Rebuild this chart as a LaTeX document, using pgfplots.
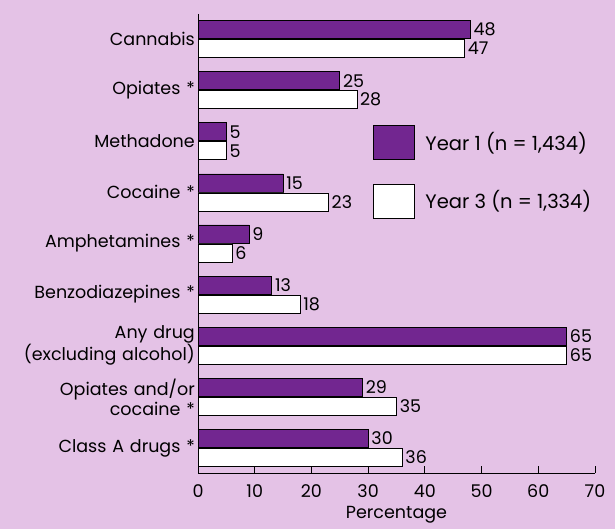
\documentclass[border=0pt]{standalone}
\usepackage{pgfplots}
\pgfplotsset{compat=1.18}
\usepackage{fontspec}
\setmainfont{Poppins}
\definecolor{bgpink}{RGB}{228,194,230}
\definecolor{barpurple}{RGB}{114,38,144}
\begin{document}
\fontsize{17.5}{20}\selectfont
\begin{tikzpicture}
\useasboundingbox (0,0) rectangle (615pt,529pt);
\fill[bgpink] (0,0) rectangle (615pt,529pt);
\begin{axis}[
  at={(198pt,56pt)}, anchor=south west,
  scale only axis, width=397pt, height=459pt,
  xbar, bar width=18pt,
  xmin=0, xmax=70, xtick={0,10,...,70},
  ymin=-0.49, ymax=8.49, y dir=reverse,
  ytick={0,...,8},
  yticklabels={Cannabis, Opiates *, Methadone, Cocaine *, Amphetamines *,
    Benzodiazepines *, {Any drug\\(excluding alcohol)}, {Opiates and/or\\cocaine *},
    Class A drugs *},
  yticklabel style={align=right, text width=195pt, inner sep=3pt},
  xticklabel style={yshift=-6pt},
  ytick style={draw=none},
  axis x line*=bottom, axis y line*=left,
  axis line style={black, line width=1pt},
  tick align=inside, major tick length=7pt,
  xtick style={black, line width=0.8pt},
  /pgf/number format/assume math mode=true,
  xlabel={Percentage},
  xlabel style={yshift=4pt},
  nodes near coords,
  nodes near coords align={horizontal},
  every node near coord/.append style={anchor=west, inner sep=3pt, black},
  legend style={at={(0.44,0.758)}, anchor=north west, draw=none, fill=none,
    row sep=24pt, inner sep=0pt, column sep=9pt, font=\fontsize{19.5}{22}\selectfont},
  legend image code/.code={\draw[#1, line width=0.6pt] (0pt,-17pt) rectangle (41pt,17pt);},
  legend cell align={left},
]
\addplot+[bar shift=9.5pt, draw=black, fill=barpurple, line width=0.6pt] coordinates {
(48,0) (25,1) (5,2) (15,3) (9,4) (13,5) (65,6) (29,7) (30,8)
};
\addplot+[bar shift=-9.5pt, draw=black, fill=white, line width=0.6pt] coordinates {
(47,0) (28,1) (5,2) (23,3) (6,4) (18,5) (65,6) (35,7) (36,8)
};
\legend{{Year 1 (n = 1,434)}, {Year 3 (n = 1,334)}}
\end{axis}
\end{tikzpicture}
\end{document}
